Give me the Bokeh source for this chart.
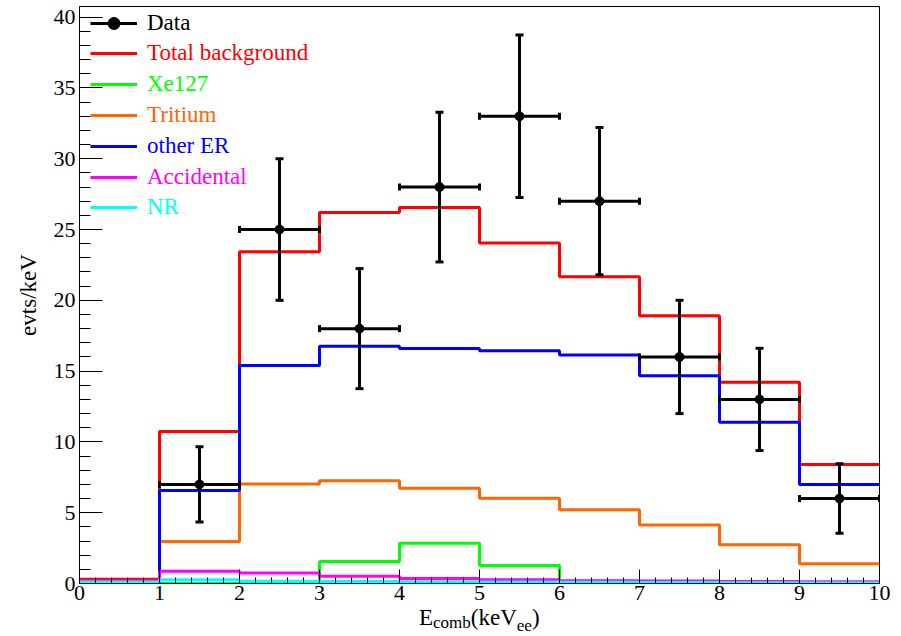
import numpy as np
from bokeh.plotting import figure
from bokeh.models import (ColumnDataSource, Legend, LegendItem,
                          SingleIntervalTicker, Range1d, Div)
from bokeh.layouts import column
from bokeh.embed import file_html
from bokeh.resources import INLINE

# ---------------- data ----------------
edges = [0, 1, 2, 3, 4, 5, 6, 7, 8, 9, 10]
data_x = [1.5, 2.5, 3.5, 4.5, 5.5, 6.5, 7.5, 8.5, 9.5]
data_y = [7, 25, 18, 28, 33, 27, 16, 13, 6]
data_err = [2.65, 5.0, 4.24, 5.29, 5.74, 5.2, 4.0, 3.61, 2.45]
bin_half = 0.5

total_bkg = [0.30, 10.73, 23.43, 26.20, 26.56, 24.04, 21.67, 18.91, 14.21, 8.40]
xe127 = [0.0, 0.0, 0.0, 1.55, 2.85, 1.27, 0.0, 0.0, 0.0, 0.0]
tritium = [0.0, 2.96, 7.03, 7.25, 6.72, 6.02, 5.20, 4.14, 2.73, 1.39]
other_er = [0.0, 6.56, 15.39, 16.75, 16.60, 16.44, 16.14, 14.68, 11.38, 6.99]
accidental = [0.18, 0.87, 0.75, 0.52, 0.36, 0.26, 0.20, 0.17, 0.14, 0.12]
nr = [0.10, 0.26, 0.16, 0.14, 0.12, 0.10, 0.08, 0.07, 0.06, 0.05]

series = [
    ("Total background", total_bkg, "#ff0000"),
    ("Xe127", xe127, "#00ff00"),
    ("Tritium", tritium, "#ff6600"),
    ("other ER", other_er, "#0000ff"),
    ("Accidental", accidental, "#ff00ff"),
    ("NR", nr, "#00ffff"),
]

FONT = "Liberation Serif"
CSSFONT = "'Liberation Serif', serif"
P_H = 610
TITLE_H = 636 - P_H

p = figure(width=901, height=P_H, output_backend="svg", toolbar_location=None,
           x_range=Range1d(0, 10), y_range=Range1d(0, 40.75),
           min_border_left=79, min_border_right=22, min_border_top=6,
           min_border_bottom=27)
p.background_fill_color = "white"
p.border_fill_color = "white"
p.outline_line_color = "black"
p.outline_line_width = 1
p.xgrid.visible = False
p.ygrid.visible = False

# axes
p.xaxis.ticker = SingleIntervalTicker(interval=1, num_minor_ticks=5)
p.yaxis.ticker = SingleIntervalTicker(interval=5, num_minor_ticks=5)
p.axis.major_tick_out = 0
p.axis.minor_tick_out = 0
p.axis.axis_line_color = "black"
p.axis.major_tick_line_color = "black"
p.axis.minor_tick_line_color = "black"
p.axis.major_label_text_font = FONT
p.axis.major_label_text_font_style = "normal"
p.axis.major_label_text_font_size = "22px"
p.axis.major_label_text_color = "black"
p.axis.axis_label_text_font = FONT
p.axis.axis_label_text_font_style = "normal"
p.axis.axis_label_text_font_size = "23px"
p.axis.axis_label_text_color = "black"
p.xaxis.major_tick_in = 14
p.xaxis.minor_tick_in = 6
p.yaxis.major_tick_in = 23
p.yaxis.minor_tick_in = 11
p.xaxis.major_label_standoff = 2
p.yaxis.major_label_standoff = 4
p.yaxis.axis_label = "evts/keV"
p.yaxis.axis_label_standoff = 10

# histograms
legend_renderers = {}
for name, vals, col in series:
    ys = list(vals) + [vals[-1]]
    r = p.step(x=edges, y=ys, mode="after", line_color=col, line_width=3)
    legend_renderers[name] = r

# data points with error bars
lo_x = [x - bin_half for x in data_x]
hi_x = [x + bin_half for x in data_x]
lo_y = [y - e for y, e in zip(data_y, data_err)]
hi_y = [y + e for y, e in zip(data_y, data_err)]
src = ColumnDataSource(dict(x=data_x, y=data_y, lx=lo_x, hx=hi_x, ly=lo_y, hy=hi_y))
seg_v = p.segment(x0="x", y0="ly", x1="x", y1="hy", source=src,
                  line_color="black", line_width=3)
seg_h = p.segment(x0="lx", y0="y", x1="hx", y1="y", source=src,
                  line_color="black", line_width=3)
for col_y in ("ly", "hy"):
    p.scatter(x="x", y=col_y, source=src, marker="dash", size=8,
              line_color="black", line_width=3)
for col_x in ("lx", "hx"):
    p.scatter(x=col_x, y="y", source=src, marker="dash", size=7, angle=np.pi / 2,
              line_color="black", line_width=3)
pts = p.scatter(x="x", y="y", source=src, size=9, color="black")

# legend (one per entry so each label has its own colour)
entries = [("Data", [seg_h, pts], "black")] + \
          [(n, [legend_renderers[n]], c) for n, _, c in series]
row_centers = [22.7, 53.3, 84.3, 115.0, 145.7, 176.7, 207.3]
frame_bottom = 583
for (label, rends, col), yc in zip(entries, row_centers):
    leg = Legend(items=[LegendItem(label=label, renderers=rends)],
                 location=(11, frame_bottom - 15 - yc),
                 glyph_width=47, glyph_height=30, label_height=30,
                 label_standoff=10, padding=0, margin=0, spacing=0,
                 border_line_alpha=0, background_fill_alpha=0,
                 label_text_font=FONT, label_text_font_size="23px",
                 label_text_color=col)
    p.add_layout(leg)

# x-axis title with subscripts (HTML text directly under the plot)
xtitle_html = (
    f'<div style="position:relative; width:901px; height:{TITLE_H}px; '
    f'font-family:{CSSFONT}; color:black;">'
    f'<span style="position:absolute; left:419px; top:{625 - 19.3 - P_H:.1f}px; '
    'font-size:23px; line-height:23px; white-space:nowrap;">'
    'E<span style="font-size:17px; vertical-align:-3px;">comb</span>(keV'
    '<span style="font-size:17px; vertical-align:-6px;">ee</span>)</span></div>'
)
xtitle = Div(text=xtitle_html, width=901, height=TITLE_H, margin=0)

layout = column(p, xtitle, spacing=0)
open("out.html", "w").write(file_html(layout, INLINE))
